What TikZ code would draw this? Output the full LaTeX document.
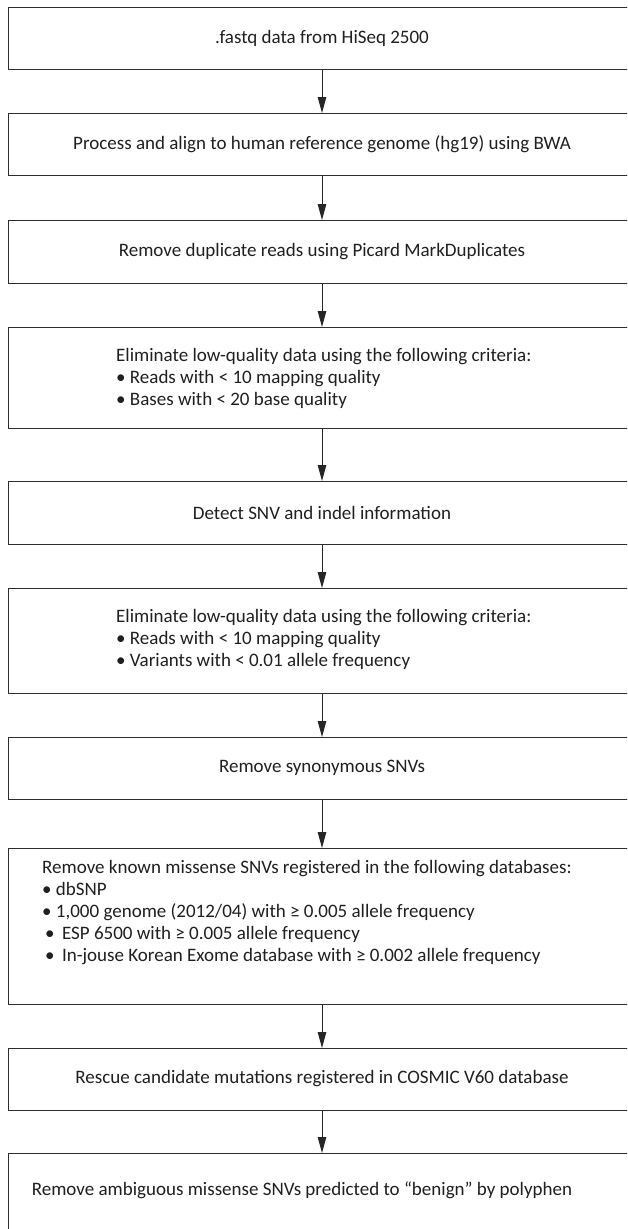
\documentclass[tikz,border=0pt]{standalone}
\usepackage{fontspec}
\setmainfont{Carlito}
\usetikzlibrary{arrows.meta}
\newcommand{\stepfont}{\fontsize{19}{22}\selectfont}
\newcommand{\lines}[1]{\begin{tabular}[t]{@{}l@{}}#1\end{tabular}}
\begin{document}
\begin{tikzpicture}[x=1pt,y=-1pt,
  box/.style={draw=black!82, line width=1.2pt, anchor=north west, inner sep=0pt, minimum width=680pt},
  lbl/.style={font=\stepfont, text=black!88, inner sep=0pt},
  multi/.style={lbl, anchor=base west},
  arr/.style={draw=black!85, line width=1pt, -{Triangle[width=8.5pt,length=16pt]}}]
\useasboundingbox (0,0) rectangle (627,1229);
\clip (0,0) rectangle (627,1229);
% boxes
\node[box, minimum height=62pt]  (b1)  at (8,7) {};
\node[box, minimum height=62pt]  (b2)  at (8,113) {};
\node[box, minimum height=63pt]  (b3)  at (8,220) {};
\node[box, minimum height=101pt] (b4)  at (8,327) {};
\node[box, minimum height=63pt]  (b5)  at (8,481) {};
\node[box, minimum height=105pt] (b6)  at (8,588) {};
\node[box, minimum height=62pt]  (b7)  at (8,737) {};
\node[box, minimum height=156pt] (b8)  at (8,848) {};
\node[box, minimum height=62pt]  (b9)  at (8,1048) {};
\node[box, minimum height=95pt]  (b10) at (8,1153) {};
% texts
\node[lbl] (t1) at (322,38) {.fastq data from HiSeq 2500};
\node[lbl] (t2) at (322,144) {Process and align to human reference genome (hg19) using BWA};
\node[lbl] (t3) at (322,251.5) {Remove duplicate reads using Picard MarkDuplicates};
\node[multi] (t4) at (116,361) {\lines{Eliminate low-quality data using the following criteria:\\
  \textbullet\ Reads with < 10 mapping quality\\
  \textbullet\ Bases with < 20 base quality}};
\node[lbl] (t5) at (322,512.5) {Detect SNV and indel information};
\node[multi] (t6) at (116,622) {\lines{Eliminate low-quality data using the following criteria:\\
  \textbullet\ Reads with < 10 mapping quality\\
  \textbullet\ Variants with < 0.01 allele frequency}};
\node[lbl] (t7) at (322,768) {Remove synonymous SNVs};
\node[multi] (t8) at (42,873) {\lines{Remove known missense SNVs registered in the following databases:\\
  \textbullet\ dbSNP\\
  \textbullet\ 1,000 genome (2012/04) with ≥ 0.005 allele frequency\\
  \hspace{3pt}\textbullet\ \,ESP 6500 with ≥ 0.005 allele frequency\\
  \hspace{3pt}\textbullet\ \,In-jouse Korean Exome database with ≥ 0.002 allele frequency}};
\node[lbl] (t9) at (322,1079) {Rescue candidate mutations registered in COSMIC V60 database};
\node[lbl] (t10) at (302,1190) {Remove ambiguous missense SNVs predicted to “benign” by polyphen};
% connectors
\coordinate (ax) at (322,0);
\draw[arr] (b1.south -| ax) -- (b2.north -| ax);
\draw[arr] (b2.south -| ax) -- (b3.north -| ax);
\draw[arr] (b3.south -| ax) -- (b4.north -| ax);
\draw[arr] (b4.south -| ax) -- (b5.north -| ax);
\draw[arr] (b5.south -| ax) -- (b6.north -| ax);
\draw[arr] (b6.south -| ax) -- (b7.north -| ax);
\draw[arr] (b7.south -| ax) -- (b8.north -| ax);
\draw[arr] (b8.south -| ax) -- (b9.north -| ax);
\draw[arr] (b9.south -| ax) -- (b10.north -| ax);
\end{tikzpicture}
\end{document}
